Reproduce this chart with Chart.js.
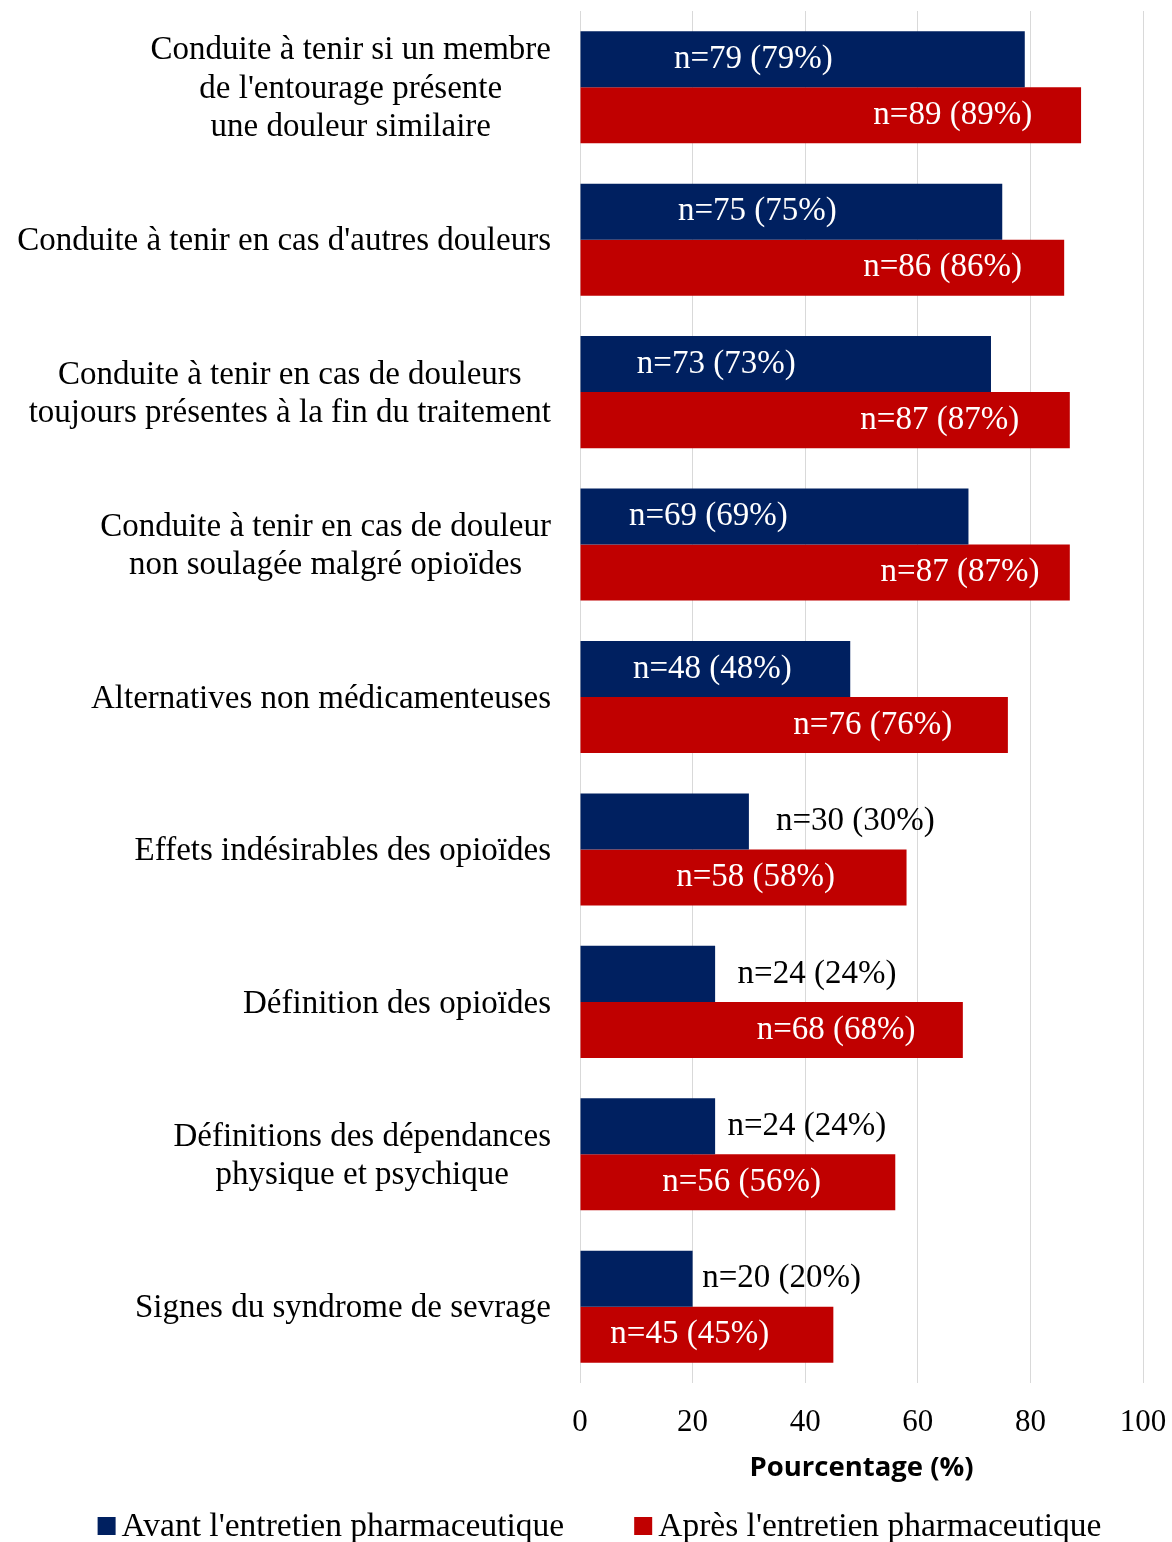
<!DOCTYPE html>
<html>
<head>
<meta charset="utf-8">
<script src="https://cdn.jsdelivr.net/npm/chart.js@4/dist/chart.umd.min.js"></script>
<style>
  body { margin: 0; background: #fff; }
  #wrap { width: 1172px; height: 1542px; }
</style>
</head>
<body>
<div id="wrap"><canvas id="chart-connaissances" width="1172" height="1542"></canvas></div>
<script>
// Données
const categories = [
    ["Conduite à tenir si un membre", "de l'entourage présente", "une douleur similaire"],
    ["Conduite à tenir en cas d'autres douleurs"],
    ["Conduite à tenir en cas de douleurs", "toujours présentes à la fin du traitement"],
    ["Conduite à tenir en cas de douleur", "non soulagée malgré opioïdes"],
    ["Alternatives non médicamenteuses"],
    ["Effets indésirables des opioïdes"],
    ["Définition des opioïdes"],
    ["Définitions des dépendances", "physique et psychique"],
    ["Signes du syndrome de sevrage"],
];
const nAvant = [79, 75, 73, 69, 48, 30, 24, 24, 20];
const nApres = [89, 86, 87, 87, 76, 58, 68, 56, 45];
const pctAvant = [79, 75, 73, 69, 48, 30, 24, 24, 20];
const pctApres = [89, 86, 87, 87, 76, 58, 68, 56, 45];
const xTicks = [0, 20, 40, 60, 80, 100];
const seriesNames = ["Avant l'entretien pharmaceutique", "Après l'entretien pharmaceutique"];

// position (en % de l'axe) du centre des étiquettes, comme sur l'original
const labelAtAvant = [30.8, 31.5, 24.2, 22.8, 23.5, 48.9, 42.1, 40.3, 35.8];
const labelAtApres = [66.2, 64.4, 63.9, 67.5, 52.0, 31.2, 45.5, 28.7, 19.5];

const serif = "'Liberation Serif', 'Times New Roman', serif";
const bleu = "#002060";
const rouge = "#C00000";

// étiquettes des catégories : bloc centré, aligné à droite contre l'axe
const categoryLabels = {
    id: 'categoryLabels',
    afterDraw(chart) {
        const ctx = chart.ctx;
        const yScale = chart.scales.y;
        const right = 551;
        const lineH = 38.5;
        ctx.save();
        ctx.font = "33px " + serif;
        ctx.fillStyle = "#000";
        ctx.textAlign = "center";
        ctx.textBaseline = "middle";
        categories.forEach((lines, i) => {
            const w = Math.max(...lines.map(l => ctx.measureText(l).width));
            const cx = right - w / 2;
            const cy = yScale.getPixelForValue(i) + 2;
            lines.forEach((l, k) => {
                ctx.fillText(l, cx, cy + (k - (lines.length - 1) / 2) * lineH);
            });
        });
        ctx.restore();
    }
};

// étiquettes de valeur n=.. (..%)
const valueLabels = {
    id: 'valueLabels',
    afterDatasetsDraw(chart) {
        const ctx = chart.ctx;
        const xScale = chart.scales.x;
        const sets = [
            { n: nAvant, pct: pctAvant, at: labelAtAvant },
            { n: nApres, pct: pctApres, at: labelAtApres },
        ];
        ctx.save();
        ctx.font = "33px " + serif;
        ctx.textAlign = "center";
        ctx.textBaseline = "middle";
        sets.forEach((s, d) => {
            const meta = chart.getDatasetMeta(d);
            meta.data.forEach((bar, i) => {
                const x = xScale.getPixelForValue(s.at[i]);
                const txt = "n=" + s.n[i] + " (" + s.pct[i] + "%)";
                const inside = x + ctx.measureText(txt).width / 2 < bar.x;
                ctx.fillStyle = inside ? "#fff" : "#000";
                ctx.fillText(txt, x, bar.y);
            });
        });
        ctx.restore();
    }
};

// légende en bas : carré + texte
const bottomLegend = {
    id: 'bottomLegend',
    afterDraw(chart) {
        const ctx = chart.ctx;
        const box = 18, gapText = 6, gapItem = 70;
        const y = 1526;
        ctx.save();
        ctx.font = "33.5px " + serif;
        ctx.textBaseline = "middle";
        ctx.textAlign = "left";
        const items = chart.data.datasets.map(ds => ({
            text: ds.label, color: ds.backgroundColor,
            w: box + gapText + ctx.measureText(ds.label).width,
        }));
        const total = items.reduce((a, it) => a + it.w, 0) + gapItem * (items.length - 1);
        let x = 599.5 - total / 2;
        items.forEach(it => {
            ctx.fillStyle = it.color;
            ctx.fillRect(x, y - box / 2, box, box);
            ctx.fillStyle = "#000";
            ctx.fillText(it.text, x + box + gapText, y + 1);
            x += it.w + gapItem;
        });
        ctx.restore();
    }
};

const ctxChart = document.getElementById("chart-connaissances");

const dataChart = {
    labels: categories.map(c => c.join(" ")),
    datasets: [
        {
            label: seriesNames[0],
            data: pctAvant,
            backgroundColor: bleu,
            categoryPercentage: 0.735,
            barPercentage: 1,
        },
        {
            label: seriesNames[1],
            data: pctApres,
            backgroundColor: rouge,
            categoryPercentage: 0.735,
            barPercentage: 1,
        },
    ],
};

const config = {
    type: "bar",
    data: dataChart,
    plugins: [categoryLabels, valueLabels, bottomLegend],
    options: {
        indexAxis: "y",
        responsive: false,
        animation: false,
        layout: {
            padding: { top: 11, right: 29, bottom: 52, left: 0 },
        },
        scales: {
            y: {
                ticks: { display: false },
                grid: { display: false },
                border: { display: false },
                afterFit(scale) { scale.width = 580; },
            },
            x: {
                min: 0,
                max: 100,
                afterBuildTicks(scale) {
                    scale.ticks = xTicks.map(v => ({ value: v }));
                },
                afterFit(scale) {
                    scale.height = 107;
                    scale.paddingLeft = 0;
                    scale.paddingRight = 0;
                },
                ticks: {
                    font: { family: serif, size: 31 },
                    color: "#000",
                    padding: 21,
                },
                grid: { color: "#d9d9d9", lineWidth: 1, drawTicks: false },
                border: { display: false },
                title: {
                    display: true,
                    text: "Pourcentage (%)",
                    font: { family: "'Open Sans', 'Liberation Sans', sans-serif", size: 27.5, weight: "bold" },
                    color: "#000",
                    padding: { top: 0, bottom: 5 },
                },
            },
        },
        plugins: {
            legend: { display: false },
            tooltip: { enabled: false },
        },
    },
};

new Chart(ctxChart, config);
</script>
</body>
</html>
